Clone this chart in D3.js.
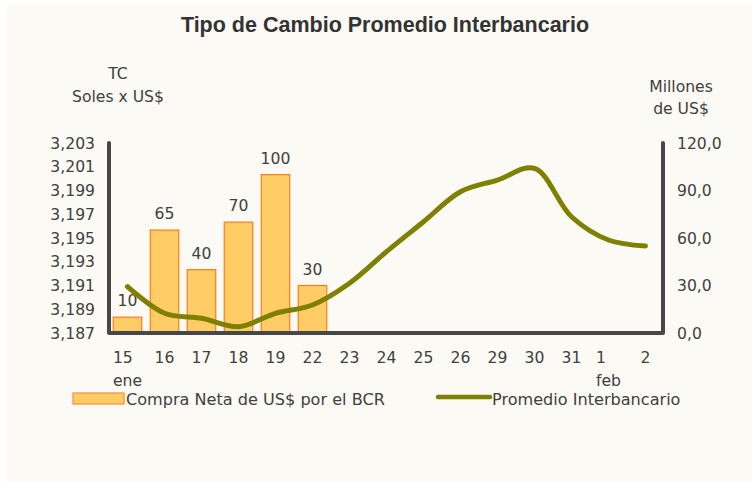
<!DOCTYPE html>
<html>
<head>
<meta charset="utf-8">
<script src="https://cdn.jsdelivr.net/npm/d3@7/dist/d3.min.js"></script>
<style>
html,body{margin:0;padding:0;background:#ffffff;}
svg{display:block;}
text{font-family:"DejaVu Sans",Verdana,sans-serif;fill:#404040;}
</style>
</head>
<body>
<script>
// ---- data ----
const categories = ["15","16","17","18","19","22","23","24","25","26","29","30","31","1","2"];
const monthLabels = ["ene","","","","","","","","","","","","","feb",""];
const compraNeta = [10,65,40,70,100,30,null,null,null,null,null,null,null,null,null];
const promedio = [3190.90,3188.66,3188.24,3187.53,3188.66,3189.36,3191.19,3193.85,3196.37,3198.90,3199.88,3200.87,3196.79,3194.83,3194.33];
const leftTicks = [3187,3189,3191,3193,3195,3197,3199,3201,3203];
const rightTicks = [0,30,60,90,120];

const W = 752, H = 482;
const svg = d3.select("body").append("svg").attr("width", W).attr("height", H);

svg.append("rect").attr("x",7).attr("y",3).attr("width",W-7).attr("height",H-3).attr("fill","#fbfaf4");

const x0 = 109, x1 = 664, yTop = 143, yBot = 333;
const x = d3.scaleBand().domain(categories.map((c,i)=>i)).range([x0,x1]).paddingInner(0.23).paddingOuter(0.115);
const cx = i => x(i) + x.bandwidth()/2;
const yL = d3.scaleLinear().domain([3187,3203]).range([yBot,yTop]);
const yR = d3.scaleLinear().domain([0,120]).range([yBot,yTop]);

const fs = "15.6px";

// title
svg.append("text").attr("x",385).attr("y",32).attr("text-anchor","middle")
  .style("font-family","'Liberation Sans',Arial,sans-serif").style("font-weight","bold").style("font-size","21.5px")
  .style("fill","#333").text("Tipo de Cambio Promedio Interbancario");

// axis titles
svg.append("text").attr("x",118).attr("y",79).attr("text-anchor","middle").style("font-size",fs).text("TC");
svg.append("text").attr("x",118).attr("y",102).attr("text-anchor","middle").style("font-size",fs).text("Soles x US$");
svg.append("text").attr("x",681).attr("y",92).attr("text-anchor","middle").style("font-size",fs).text("Millones");
svg.append("text").attr("x",681).attr("y",114).attr("text-anchor","middle").style("font-size",fs).text("de US$");

// bars
const bars = compraNeta.map((v,i)=>({v,i})).filter(d=>d.v!=null);
svg.selectAll("rect.bar").data(bars).enter().append("rect")
  .attr("x",d=>x(d.i)).attr("y",d=>yR(d.v)).attr("width",x.bandwidth()).attr("height",d=>yBot-yR(d.v))
  .attr("fill","#ffcc66").attr("stroke","#ff7a1a").attr("stroke-width",1.2);
svg.selectAll("text.blab").data(bars).enter().append("text")
  .attr("x",d=>cx(d.i)).attr("y",d=>yR(d.v)-11).attr("text-anchor","middle")
  .style("font-size",fs).text(d=>d.v);

// line
const line = d3.line().x((d,i)=>cx(i)).y(d=>yL(d)).curve(d3.curveCatmullRom.alpha(0.5));
svg.append("path").datum(promedio).attr("d",line).attr("fill","none")
  .attr("stroke","#808000").attr("stroke-width",5).attr("stroke-linecap","round").attr("stroke-linejoin","round");

// axes lines
const axisCol = "#474747";
svg.append("path").attr("d",`M${x0},${yTop}V${yBot}H${x1-1}V${yTop}`).attr("fill","none")
  .attr("stroke",axisCol).attr("stroke-width",4).attr("stroke-linecap","round").attr("stroke-linejoin","round");

// left ticks
const fmtL = d3.format(",");
svg.selectAll("text.lt").data(leftTicks).enter().append("text")
  .attr("x",95).attr("y",d=>yL(d)).attr("dy","0.36em").attr("text-anchor","end").style("font-size",fs)
  .text(d=>fmtL(d));
// right ticks
svg.selectAll("text.rt").data(rightTicks).enter().append("text")
  .attr("x",677).attr("y",d=>yR(d)).attr("dy","0.36em").attr("text-anchor","start").style("font-size",fs)
  .text(d=>d3.format(".1f")(d).replace(".",","));

// category labels (multi-line blocks centred on band, lines left-aligned)
categories.forEach((c,i)=>{
  const g = svg.append("g");
  const t1 = g.append("text").attr("y",363).style("font-size",fs).text(c);
  let w = t1.node().getComputedTextLength();
  let t2 = null;
  if (monthLabels[i]) {
    t2 = g.append("text").attr("y",386).style("font-size",fs).text(monthLabels[i]);
    w = Math.max(w, t2.node().getComputedTextLength());
  }
  const left = cx(i) - w/2;
  t1.attr("x", left);
  if (t2) t2.attr("x", left);
});

// legend
const lfs = "16.1px";
svg.append("rect").attr("x",73).attr("y",393).attr("width",51).attr("height",11)
  .attr("fill","#ffcc66").attr("stroke","#ff8c33").attr("stroke-width",1.2);
svg.append("text").attr("x",126).attr("y",405).style("font-size",lfs).text("Compra Neta de US$ por el BCR");
svg.append("line").attr("x1",438).attr("x2",490).attr("y1",397).attr("y2",397)
  .attr("stroke","#808000").attr("stroke-width",4.5).attr("stroke-linecap","round");
svg.append("text").attr("x",492).attr("y",405).style("font-size",lfs).text("Promedio Interbancario");
</script>
</body>
</html>
